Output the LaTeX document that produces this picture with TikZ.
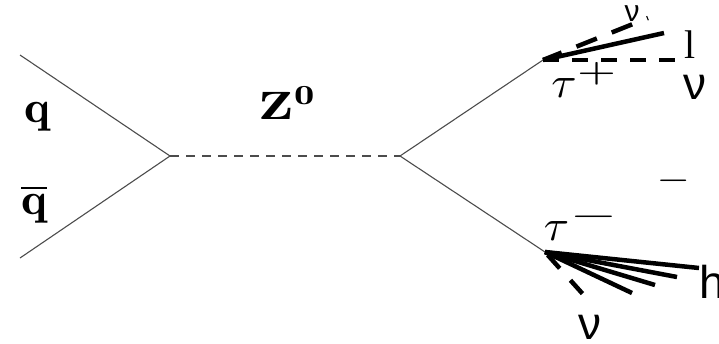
\documentclass[tikz,border=0pt]{standalone}
\usepackage{fontspec}
\newfontfamily\serf{Liberation Serif}
\newfontfamily\sansf{Liberation Sans}
\begin{document}
\begin{tikzpicture}[x=1pt,y=-1pt,
  thin line/.style={draw=black!70,line width=1.1pt},
  zline/.style={draw=black!70,line width=1.1pt,dash pattern=on 9pt off 7pt},
  jet/.style={draw=black,line width=4.5pt},
  jetdash/.style={draw=black,line width=4.5pt,dash pattern=on 16pt off 13pt},
  lbl/.style={inner sep=0pt,anchor=center}]
\useasboundingbox (0,0) rectangle (719,343);
\coordinate (qa) at (20,55);
\coordinate (qb) at (20,258);
\coordinate (v1) at (170,156);
\coordinate (v2) at (400,156);
\coordinate (tp) at (543,60);
\coordinate (tm) at (545,252);
\draw[thin line] (qa) -- (v1);
\draw[thin line] (qb) -- (v1);
\draw[zline] (v1) -- (v2);
\draw[thin line] (v2) -- (tp);
\draw[thin line] (v2) -- (tm);
% tau+ decay
\coordinate (tpl) at (664,33);
\coordinate (tpn) at (682,60);
\coordinate (tpnb) at (648,18);
\draw[jet] (tp) -- (tpl);
\draw[jetdash] (tp) -- (tpn);
\draw[jetdash, dash pattern=on 22pt off 16pt, dash phase=-36pt] (tp) -- (tpnb);
% tau- decay
\coordinate (h1) at (699,268);
\coordinate (h2) at (677,277);
\coordinate (h3) at (655,285);
\coordinate (h4) at (632,293);
\coordinate (nm) at (590,302);
\draw[jet] (tm) -- (h1);
\draw[jet] (tm) -- (h2);
\draw[jet] (tm) -- (h3);
\draw[jet] (tm) -- (h4);
\draw[jet, dash pattern=on 18pt off 16pt, dash phase=-4pt] (tm) -- (nm);
% labels
\node[lbl] (q) at (37,117) {\scalebox{4.9}[4.5]{$\mathbf{q}$}};
\node[lbl] (qbar) at (34,204) {\scalebox{4.9}[4.5]{$\overline{\mathbf{q}}$}};
\node[lbl] (z) at (288,103) {\scalebox{5.8}[3.95]{$\mathbf{Z^0}$}};
\node[lbl] (taup) at (585,80) {\scalebox{4.6}[4.4]{$\tau^{\scalebox{1.4}[1]{$\scriptstyle+$}}$}};
\node[lbl] (taum) at (582,223) {\scalebox{4.6}[4.4]{$\tau^{\scalebox{1.7}[1]{$\scriptstyle-$}}$}};
\node[lbl] (minus) at (675,187) {\scalebox{5.5}[4.4]{$^{-}$}};
\node[lbl] (l) at (690,45) {\fontsize{40}{40}\selectfont\serf l};
\node[lbl] (nup) at (695,87) {\fontsize{46}{46}\selectfont\sansf ν};
\node[lbl] (nupb) at (632,14) {\fontsize{30}{30}\selectfont\sansf ν};
\node[lbl] (h) at (712,282) {\fontsize{46}{46}\selectfont\sansf h};
\node[lbl] (num) at (590,327) {\fontsize{46}{46}\selectfont\sansf ν};
\end{tikzpicture}
\end{document}
